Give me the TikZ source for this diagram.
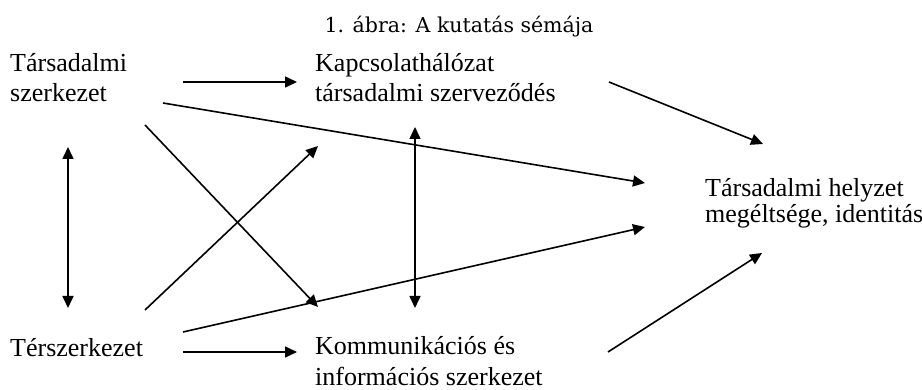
\documentclass[tikz,border=0pt]{standalone}
\usepackage{fontspec}
\setmainfont{Liberation Serif}
\newfontfamily\titlefont{DejaVu Serif}
\usetikzlibrary{arrows.meta}
\begin{document}
\begin{tikzpicture}[x=1pt,y=-1pt,
  lbl/.style={anchor=base west,inner sep=0pt,align=left,font=\fontsize{26}{30.5}\selectfont},
  arr/.style={line width=1.6pt,-{Triangle[length=12pt,width=11pt]}},
  darr/.style={line width=1.6pt,{Triangle[length=12pt,width=11pt]}-{Triangle[length=12pt,width=11pt]}}]
\useasboundingbox[fill=white] (0,0) rectangle (922,390);
\node[anchor=base,inner sep=0pt,font=\titlefont\fontsize{20.5}{24}\selectfont] (title) at (459,33) {1. ábra: A kutatás sémája};
\node[lbl] (tsz) at (10,102) {Társadalmi\\szerkezet};
\node[lbl] (kap) at (315,102) {Kapcsolathálózat\\társadalmi szerveződés};
\node[lbl,font=\fontsize{26}{26}\selectfont] (thely) at (705,223) {Társadalmi helyzet\\megéltsége, identitás};
\node[lbl] (tersz) at (10,357) {Térszerkezet};
\node[lbl] (komm) at (315,385) {Kommunikációs és\\információs szerkezet};
% endpoints
\coordinate (a1s) at (183,82);  \coordinate (a1e) at (297,82);
\coordinate (l1s) at (163,103); \coordinate (l1e) at (645,183);
\coordinate (l2s) at (145,125); \coordinate (l2e) at (318,307);
\coordinate (l3s) at (145,310); \coordinate (l3e) at (318,146);
\coordinate (v1s) at (68,147);  \coordinate (v1e) at (68,308);
\coordinate (v2s) at (415,127); \coordinate (v2e) at (415,308);
\coordinate (l4s) at (183,332); \coordinate (l4e) at (645,227);
\coordinate (a2s) at (183,352); \coordinate (a2e) at (297,352);
\coordinate (a3s) at (609,82);  \coordinate (a3e) at (763,144);
\coordinate (a4s) at (608,352); \coordinate (a4e) at (762,253);
\draw[arr] (a1s) -- (a1e);
\draw[arr] (l1s) -- (l1e);
\draw[arr] (l2s) -- (l2e);
\draw[arr] (l3s) -- (l3e);
\draw[darr] (v1s) -- (v1e);
\draw[darr] (v2s) -- (v2e);
\draw[arr] (l4s) -- (l4e);
\draw[arr] (a2s) -- (a2e);
\draw[arr] (a3s) -- (a3e);
\draw[arr] (a4s) -- (a4e);
\end{tikzpicture}
\end{document}
